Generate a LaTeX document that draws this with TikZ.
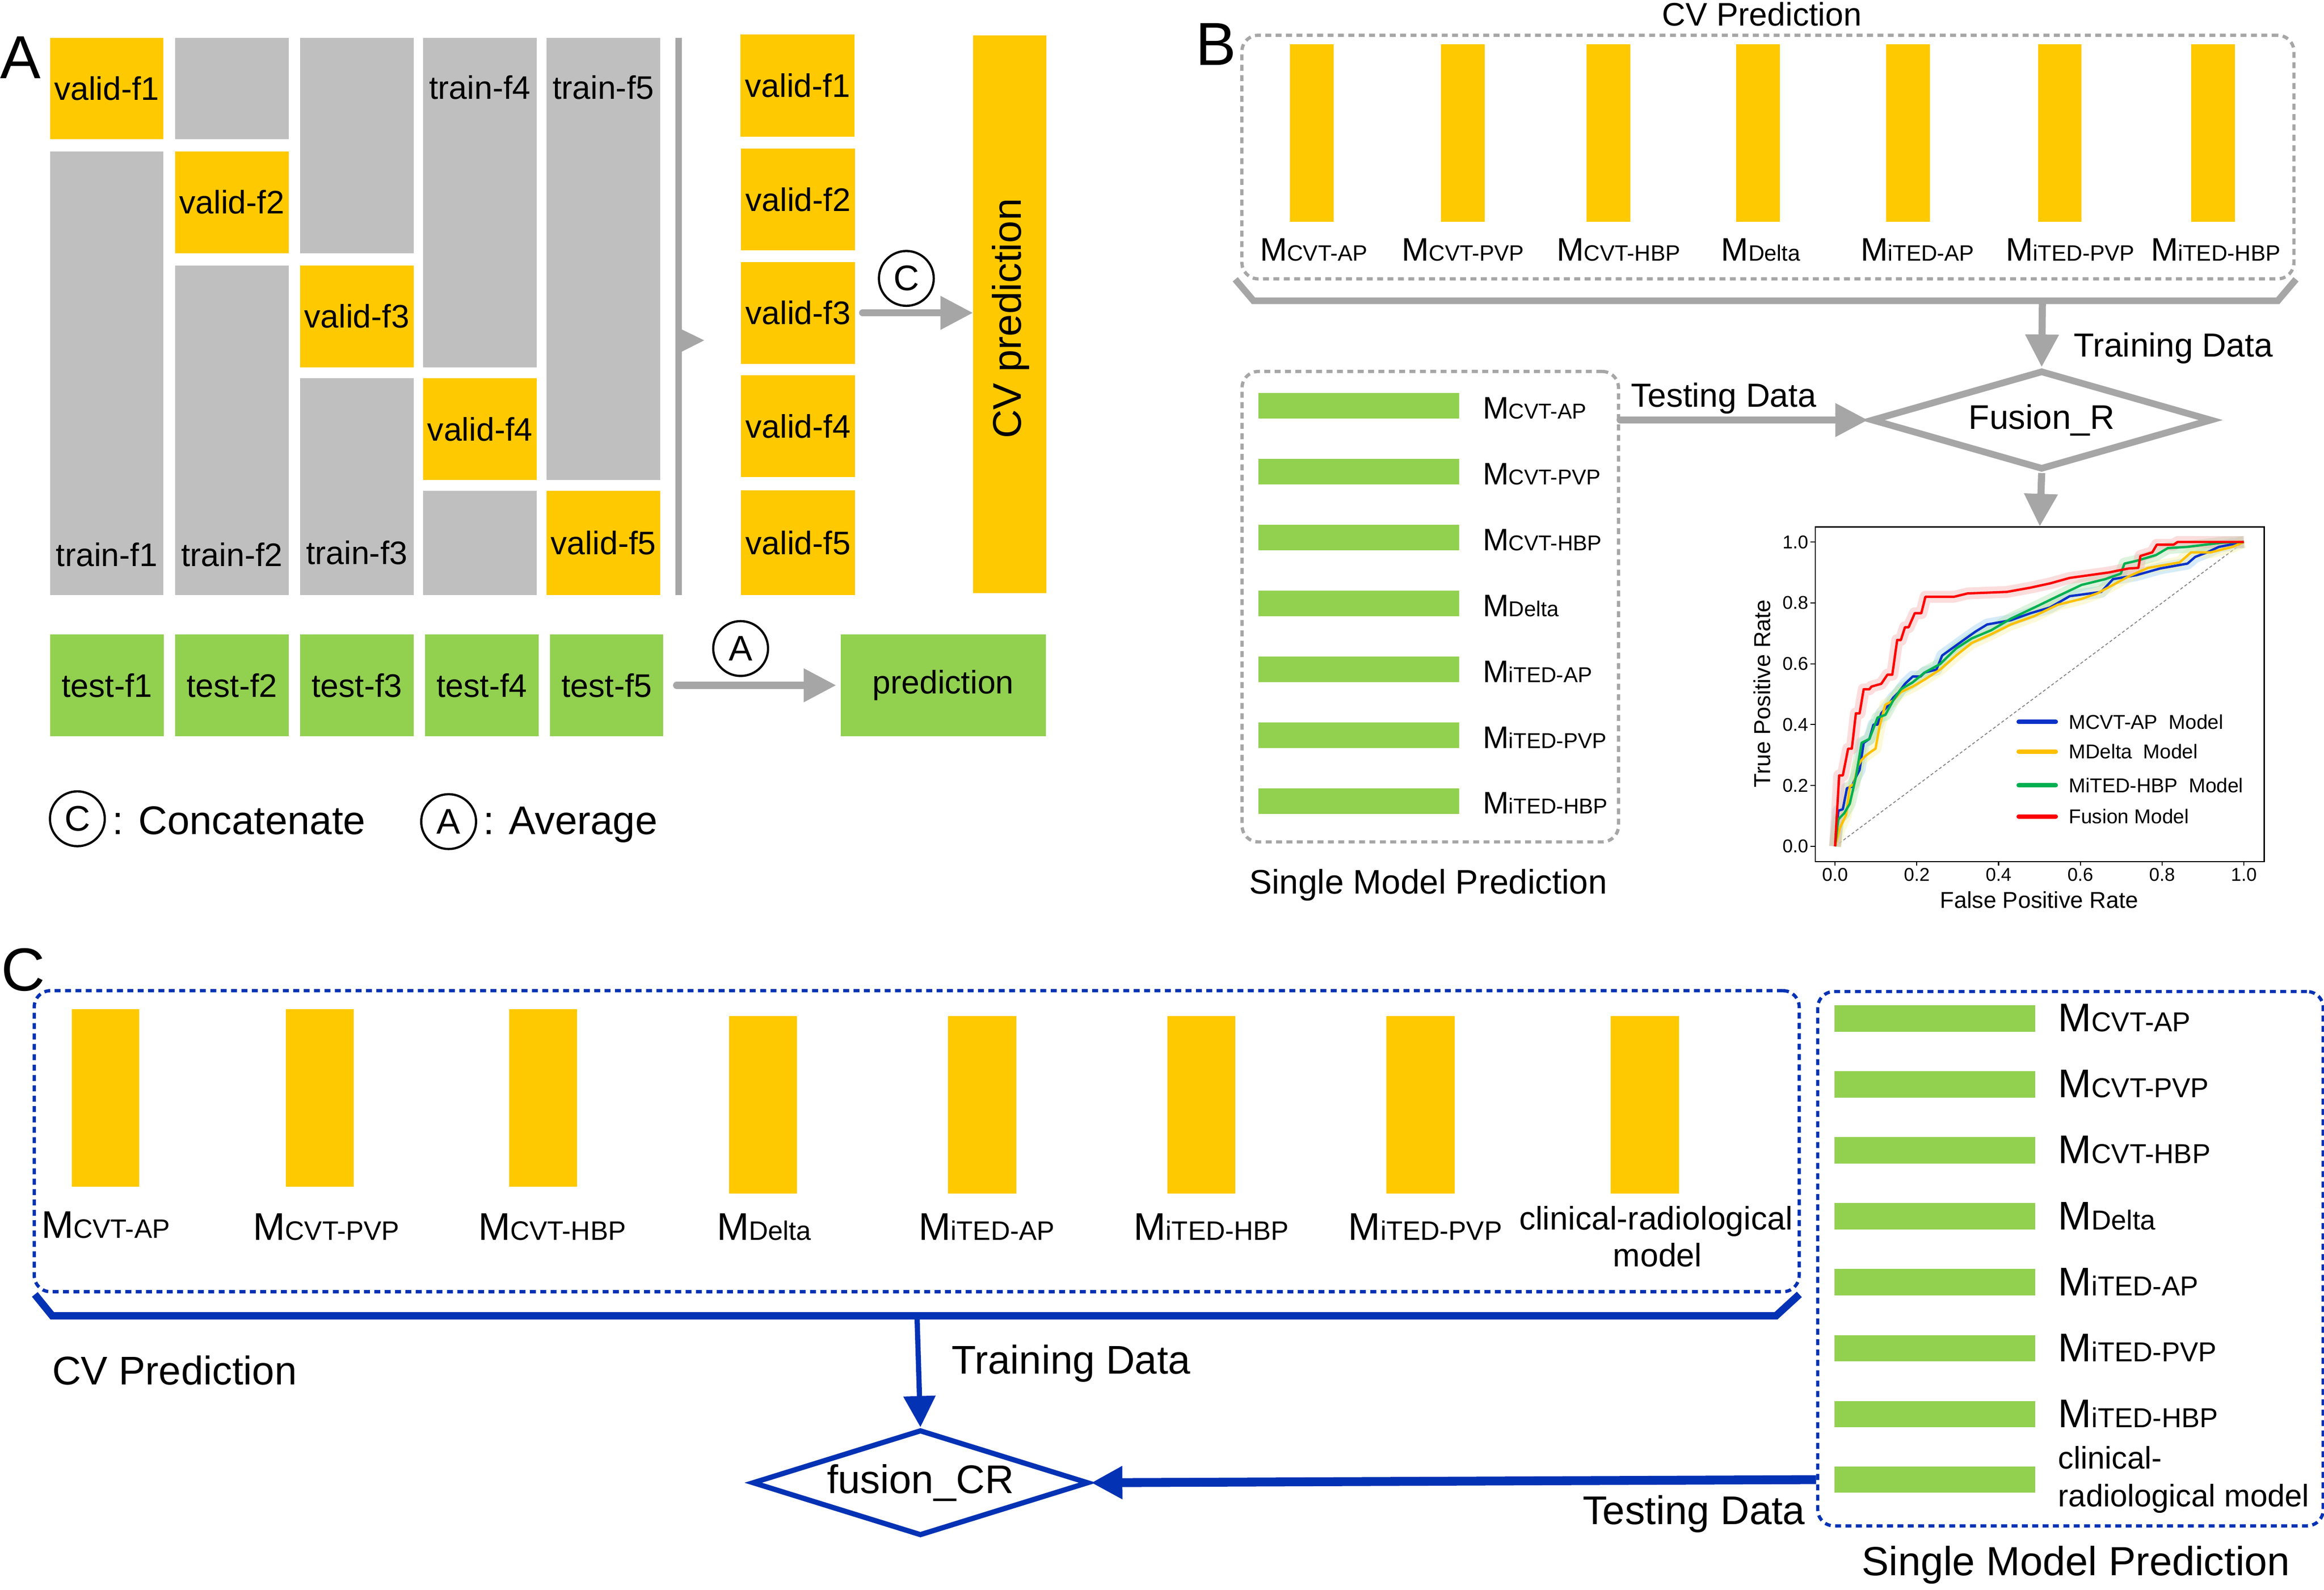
\documentclass[tikz,border=0pt]{standalone}
\usepackage{fontspec}
\setmainfont{Liberation Sans}
\usetikzlibrary{arrows.meta,shapes.geometric}
\definecolor{ygold}{HTML}{FFC900}
\definecolor{lgreen}{HTML}{92D050}
\definecolor{lgray}{HTML}{BFBFBF}
\definecolor{agray}{HTML}{A6A6A6}
\definecolor{dblue}{HTML}{0432B4}
\definecolor{cblue}{HTML}{0A32C8}
\definecolor{cyel}{HTML}{FFC000}
\definecolor{cgrn}{HTML}{00B050}
\definecolor{cred}{HTML}{FF0000}
\newcommand\fsz[1]{\fontsize{#1}{#1}\selectfont}
\newcommand\mlab[3]{{\fsz{#1}M}{\fsz{#2}#3}}
\newcommand\rectnd[7]{\node[#1, anchor=north west, minimum width={(#4)-(#2)}, minimum height={(#5)-(#3)}] (#6) at ({#2},{#3}) {#7};}
\newcommand\redcurve[1]{\draw[#1] (0,0) -- (0.01,0.233) -- (0.019,0.233) -- (0.032,0.321) -- (0.041,0.321) -- (0.051,0.437) -- (0.06,0.437) -- (0.07,0.516) -- (0.084,0.516) -- (0.089,0.525) -- (0.113,0.534) -- (0.128,0.564) -- (0.14,0.564) -- (0.152,0.678) -- (0.161,0.678) -- (0.171,0.72) -- (0.18,0.72) -- (0.195,0.766) -- (0.211,0.766) -- (0.221,0.82) -- (0.291,0.82) -- (0.324,0.831) -- (0.42,0.836) -- (0.478,0.85) -- (0.526,0.864) -- (0.574,0.882) -- (0.622,0.891) -- (0.67,0.9) -- (0.718,0.913) -- (0.742,0.915) -- (0.747,0.954) -- (0.776,0.966) -- (0.787,0.991) -- (0.828,0.991) -- (0.838,1) -- (1,1);}
\newcommand\bluecurve[1]{\draw[#1] (0,0) -- (0.008,0.117) -- (0.019,0.122) -- (0.029,0.191) -- (0.041,0.196) -- (0.051,0.228) -- (0.06,0.251) -- (0.07,0.34) -- (0.084,0.353) -- (0.094,0.4) -- (0.104,0.4) -- (0.113,0.437) -- (0.128,0.46) -- (0.142,0.488) -- (0.156,0.507) -- (0.171,0.534) -- (0.19,0.558) -- (0.209,0.558) -- (0.219,0.571) -- (0.248,0.581) -- (0.262,0.627) -- (0.296,0.66) -- (0.324,0.687) -- (0.344,0.706) -- (0.372,0.729) -- (0.43,0.743) -- (0.478,0.766) -- (0.526,0.785) -- (0.574,0.822) -- (0.651,0.836) -- (0.68,0.878) -- (0.737,0.891) -- (0.795,0.913) -- (0.862,0.929) -- (0.881,0.951) -- (0.91,0.966) -- (0.939,0.984) -- (1,1);}
\newcommand\yelcurve[1]{\draw[#1] (0,0) -- (0.012,0.061) -- (0.027,0.103) -- (0.036,0.196) -- (0.046,0.205) -- (0.056,0.265) -- (0.065,0.284) -- (0.075,0.298) -- (0.089,0.312) -- (0.099,0.321) -- (0.109,0.395) -- (0.123,0.465) -- (0.142,0.479) -- (0.161,0.507) -- (0.19,0.525) -- (0.219,0.548) -- (0.257,0.581) -- (0.296,0.627) -- (0.334,0.668) -- (0.382,0.697) -- (0.43,0.729) -- (0.488,0.757) -- (0.545,0.794) -- (0.603,0.813) -- (0.641,0.831) -- (0.68,0.859) -- (0.718,0.887) -- (0.766,0.915) -- (0.843,0.933) -- (0.871,0.966) -- (0.919,0.966) -- (0.972,0.984) -- (1,1);}
\newcommand\grncurve[1]{\draw[#1] (0,0) -- (0.008,0.089) -- (0.022,0.108) -- (0.036,0.14) -- (0.051,0.228) -- (0.065,0.34) -- (0.084,0.353) -- (0.104,0.423) -- (0.123,0.432) -- (0.142,0.479) -- (0.161,0.516) -- (0.19,0.539) -- (0.219,0.571) -- (0.257,0.599) -- (0.296,0.65) -- (0.334,0.683) -- (0.382,0.71) -- (0.43,0.748) -- (0.488,0.785) -- (0.545,0.822) -- (0.603,0.859) -- (0.661,0.878) -- (0.699,0.896) -- (0.708,0.929) -- (0.737,0.938) -- (0.785,0.957) -- (0.814,0.98) -- (0.862,0.984) -- (0.948,0.998) -- (1,1);}
\begin{document}
\begin{tikzpicture}[x=1pt,y=-1pt,
 txt/.style={inner sep=0pt,outer sep=0pt},
 ybox/.style={fill=ygold,inner sep=0pt,outer sep=0pt,font=\fsz{22}},
 gbox/.style={fill=lgray,inner sep=0pt,outer sep=0pt},
 grbox/.style={fill=lgreen,inner sep=0pt,outer sep=0pt,font=\fsz{22}},
 circ/.style={circle,draw,line width=1.5pt,minimum size=37pt,inner sep=0pt,font=\fsz{24}},
 garrow/.style={draw=agray,line width=4.8pt,-{Triangle[length=22pt,width=21.6pt]}},
 barrow/.style={draw=dblue,-{Triangle[length=21pt,width=21pt]}},
 gdash/.style={draw=agray,line width=2.2pt,dash pattern=on 4pt off 3pt,rounded corners=11pt,inner sep=0pt},
 bdash/.style={draw=dblue,line width=2.2pt,dash pattern=on 4pt off 3pt,rounded corners=11pt,inner sep=0pt},
 band/.style={line width=8pt,opacity=0.4,line join=round},
 curve/.style={line width=1.6pt,line join=round}
]
\useasboundingbox (0,0) rectangle (1568,1072.8);
% ================= Panel A =================
\node[txt,font=\fsz{41}] (panA) at (14,39) {A};
\rectnd{ybox}{33.8}{25.4}{110.2}{93.9}{v1}{valid-f1}
\rectnd{gbox}{33.8}{102.1}{110.2}{401.6}{tr1}{}
\rectnd{gbox}{118.2}{25.4}{194.7}{93.9}{g21}{}
\rectnd{ybox}{118.2}{102.1}{194.7}{170.9}{v2}{valid-f2}
\rectnd{gbox}{118.2}{179.1}{194.7}{401.6}{tr2}{}
\rectnd{gbox}{202.4}{25.4}{279.1}{170.9}{g31}{}
\rectnd{ybox}{202.4}{179.1}{279.1}{247.9}{v3}{valid-f3}
\rectnd{gbox}{202.4}{255.3}{279.1}{401.6}{tr3}{}
\rectnd{gbox}{285.6}{25.4}{362.1}{247.9}{tr4}{}
\rectnd{ybox}{285.6}{255.3}{362.1}{324.1}{v4}{valid-f4}
\rectnd{gbox}{285.6}{331.3}{362.1}{401.6}{g42}{}
\rectnd{gbox}{368.9}{25.4}{445.4}{324.1}{tr5}{}
\rectnd{ybox}{368.9}{331.3}{445.4}{401.6}{v5}{valid-f5}
\node[txt,font=\fsz{22}] (ltr1) at (72,374.5) {train-f1};
\node[txt,font=\fsz{22}] (ltr2) at (156.5,374.5) {train-f2};
\node[txt,font=\fsz{22}] (ltr3) at (240.7,373) {train-f3};
\node[txt,font=\fsz{22}] (ltr4) at (323.8,58.9) {train-f4};
\node[txt,font=\fsz{22}] (ltr5) at (407,58.9) {train-f5};
% bracket A
\fill[agray] (455.7,25.4) rectangle (459.9,401.6);
\fill[agray] (459.9,222.3) -- (475.1,229.7) -- (459.9,237.4) -- cycle;
% valid column
\rectnd{ybox}{499.7}{23.3}{576.5}{92.3}{cv1}{valid-f1}
\rectnd{ybox}{500}{100.3}{577}{169.1}{cv2}{valid-f2}
\rectnd{ybox}{500}{176.8}{577}{245.5}{cv3}{valid-f3}
\rectnd{ybox}{500}{253.2}{577}{322}{cv4}{valid-f4}
\rectnd{ybox}{500}{331}{577}{401.6}{cv5}{valid-f5}
\rectnd{ybox}{656.5}{23.8}{705.9}{400.3}{cvp}{}
\node[txt,rotate=90,font=\fsz{27}] (cvptxt) at (682,215) {CV prediction};
\node[circ] (cC) at (611.5,187.9) {C};
\draw[garrow,line cap=round] ([xshift=5pt]cv3.east) -- (cvp.west |- cv3.east);
% test row
\rectnd{grbox}{34}{428.1}{110.4}{496.9}{t1}{test-f1}
\rectnd{grbox}{118.3}{428.1}{194.7}{496.9}{t2}{test-f2}
\rectnd{grbox}{202.6}{428.1}{279}{496.9}{t3}{test-f3}
\rectnd{grbox}{286.9}{428.1}{363.3}{496.9}{t4}{test-f4}
\rectnd{grbox}{371.2}{428.1}{447.5}{496.9}{t5}{test-f5}
\rectnd{grbox}{567.2}{428.1}{705.5}{496.9}{pred}{prediction}
\node[circ] (cA) at (499.7,437.7) {A};
\draw[garrow,line cap=round] ([xshift=9pt]t5.east) -- ([xshift=-3pt]pred.west);
% legend
\node[circ] (lgC) at (52.2,552.6) {C};
\node[txt,anchor=base west,font=\fsz{27}] (lgCt) at (76,563) {: Concatenate};
\node[circ] (lgA) at (302.7,554.5) {A};
\node[txt,anchor=base west,font=\fsz{27}] (lgAt) at (326,563) {: Average};
% ================= Panel B =================
\node[txt,font=\fsz{41}] (panB) at (820.4,29.9) {B};
\node[txt,anchor=base,font=\fsz{22}] (cvtitB) at (1188.8,17.5) {CV Prediction};
\node[gdash,anchor=north west,minimum width=709.8pt,minimum height=164.4pt] (cvB) at (836.8,22.7) {};
\foreach \x [count=\i] in {870.3,972.1,1070.5,1171.3,1272.7,1375,1478.3}
  \rectnd{ybox}{\x}{30}{\x+29.5}{149.7}{yb\i}{};
\node[txt,anchor=base] (lb1) at (886.3,176) {\mlab{22}{15}{CVT-AP}};
\node[txt,anchor=base] (lb2) at (987,176) {\mlab{22}{15}{CVT-PVP}};
\node[txt,anchor=base] (lb3) at (1092,176) {\mlab{22}{15}{CVT-HBP}};
\node[txt,anchor=base] (lb4) at (1188,176) {\mlab{22}{15}{Delta}};
\node[txt,anchor=base] (lb5) at (1293.7,176) {\mlab{22}{15}{iTED-AP}};
\node[txt,anchor=base] (lb6) at (1396.8,176) {\mlab{22}{15}{iTED-PVP}};
\node[txt,anchor=base] (lb7) at (1494.9,176) {\mlab{22}{15}{iTED-HBP}};
\draw[agray,line width=4.5pt] (833.4,188.5) -- (845.7,203) -- (1536.8,203) -- (1549.1,188.5);
\coordinate (bbr) at (1378,203);
\node[diamond,draw=agray,line width=4.5pt,minimum width=230pt,minimum height=67pt,aspect=3.4,inner sep=0pt,font=\fsz{23}] (fusR) at (1377.5,283.5) {Fusion\_R};
\draw[garrow] (bbr) -- (fusR.north);
\node[txt,anchor=base west,font=\fsz{22.5}] (trB) at (1399.3,240.7) {Training Data};
% single model box B
\node[gdash,anchor=north west,minimum width=254pt,minimum height=317.5pt] (smB) at (836.9,249.6) {};
\foreach \i/\s in {0/CVT-AP,1/CVT-PVP,2/CVT-HBP,3/Delta,4/iTED-AP,5/iTED-PVP,6/iTED-HBP}{
  \rectnd{grbox}{848.9}{265.2+\i*44.45}{984.6}{282.6+\i*44.45}{gb\i}{};
  \node[txt,anchor=base west] (gl\i) at (1000.4,{282.6+\i*44.45}) {\mlab{21}{14.5}{\s}};
}
\node[txt,anchor=base,font=\fsz{23}] (smtB) at (963.6,603.3) {Single Model Prediction};
\draw[garrow,line cap=round] (smB.east |- fusR.west) -- (fusR.west);
\node[txt,anchor=base,font=\fsz{22.5}] (teB) at (1163,274.5) {Testing Data};
% ROC plot
\node[draw,line width=0.8pt,anchor=north west,minimum width=302.9pt,minimum height=225.8pt,inner sep=0pt] (roc) at (1224.4,355.3) {};
\draw[garrow,line width=4.8pt] (fusR.south) -- (roc.north);
\foreach \v [count=\i] in {0.0,0.2,0.4,0.6,0.8,1.0}{
  \draw[line width=0.7pt] (1224.4,{571.2-\v*205.4}) -- ++(-3,0);
  \node[txt,anchor=east,font=\fsz{12.5}] (yt\i) at (1220,{571.2-\v*205.4}) {\v};
  \draw[line width=0.7pt] ({1238.1+\v*275.8},581.1) -- ++(0,3);
  \node[txt,anchor=north,font=\fsz{12.5}] (xt\i) at ({1238.1+\v*275.8},586) {\v};
}
\node[txt,rotate=90,font=\fsz{15.5}] (ylab) at (1188.7,468.1) {True Positive Rate};
\node[txt,font=\fsz{15.5}] (xlab) at (1375.8,607.2) {False Positive Rate};
\begin{scope}[shift={(1238.1,571.2)},x=275.8pt,y=205.4pt]
  \draw[gray,line width=0.6pt,dash pattern=on 2pt off 1.5pt] (0,0) -- (1,1);
  \bluecurve{band,draw={rgb,255:red,150;green,205;blue,240}}
  \yelcurve{band,draw={rgb,255:red,245;green,240;blue,160}}
  \grncurve{band,draw={rgb,255:red,170;green,225;blue,170}}
  \redcurve{band,draw={rgb,255:red,245;green,170;blue,170}}
  \bluecurve{curve,draw=cblue}
  \yelcurve{curve,draw=cyel}
  \grncurve{curve,draw=cgrn}
  \redcurve{curve,draw=cred}
\end{scope}
\foreach \c/\y/\t [count=\i] in {cblue/487.2/{MCVT-AP\ \ Model},cyel/507.2/{MDelta\ \ Model},cgrn/530/{MiTED-HBP\ \ Model},cred/551/{Fusion Model}}{
  \draw[\c,line width=3pt,line cap=round] (1362,\y) -- (1387,\y);
  \node[txt,anchor=west,font=\fsz{13.5}] (lg\i) at (1395.8,\y) {\t};
}
% ================= Panel C =================
\node[txt,font=\fsz{41}] (panC) at (15.5,654.7) {C};
\node[bdash,anchor=north west,minimum width=1190.8pt,minimum height=203.2pt] (cvC) at (22,667.5) {};
\rectnd{ybox}{48.3}{681}{94}{800.8}{yc1}{}
\rectnd{ybox}{193}{681}{238.7}{800.8}{yc2}{}
\rectnd{ybox}{343.7}{681}{389.4}{800.8}{yc3}{}
\rectnd{ybox}{491.9}{685.8}{537.6}{805.5}{yc4}{}
\rectnd{ybox}{639.6}{685.8}{685.8}{805.5}{yc5}{}
\rectnd{ybox}{787.6}{685.8}{833.3}{805.5}{yc6}{}
\rectnd{ybox}{935.4}{685.8}{981.5}{805.5}{yc7}{}
\rectnd{ybox}{1086.6}{685.8}{1132.8}{805.5}{yc8}{}
\node[txt,anchor=base] (lc1) at (71.3,835.5) {\mlab{26}{18}{CVT-AP}};
\node[txt,anchor=base] (lc2) at (220.1,837) {\mlab{26}{18}{CVT-PVP}};
\node[txt,anchor=base] (lc3) at (372.5,837) {\mlab{26}{18}{CVT-HBP}};
\node[txt,anchor=base] (lc4) at (515.5,837) {\mlab{26}{18}{Delta}};
\node[txt,anchor=base] (lc5) at (665.7,837) {\mlab{26}{18}{iTED-AP}};
\node[txt,anchor=base] (lc6) at (817.3,837) {\mlab{26}{18}{iTED-HBP}};
\node[txt,anchor=base] (lc7) at (961.6,837) {\mlab{26}{18}{iTED-PVP}};
\node[txt,anchor=base,font=\fsz{22}] (lc8a) at (1117.3,830) {clinical-radiological};
\node[txt,anchor=base,font=\fsz{22}] (lc8b) at (1118.3,855) {model};
\draw[dblue,line width=5pt] (23.5,873.6) -- (35.2,888) -- (1198.3,888) -- (1214,873.6);
\coordinate (cbr) at (618.7,888);
\node[txt,anchor=base west,font=\fsz{27}] (cvtC) at (35.2,934.5) {CV Prediction};
\node[txt,anchor=base west,font=\fsz{27}] (trC) at (642.2,927.1) {Training Data};
\node[diamond,draw=dblue,line width=3.5pt,minimum width=227pt,minimum height=71.5pt,aspect=3.2,inner sep=0pt,font=\fsz{27}] (fusCR) at (621,1000.7) {fusion\_CR};
\draw[barrow,line width=3.5pt] (cbr) -- (fusCR.north);
% single model box C
\node[bdash,anchor=north west,minimum width=341.1pt,minimum height=360.6pt] (smC) at (1225.3,668.1) {};
\foreach \i/\s in {0/CVT-AP,1/CVT-PVP,2/CVT-HBP,3/Delta,4/iTED-AP,5/iTED-PVP,6/iTED-HBP}{
  \rectnd{grbox}{1237.6}{678.5+\i*44.5}{1373.2}{696.3+\i*44.5}{gc\i}{};
  \node[txt,anchor=base west] (glc\i) at (1388.7,{696.3+\i*44.5}) {\mlab{27}{18.5}{\s}};
}
\rectnd{grbox}{1237.6}{989.7}{1373.2}{1007.5}{gc7}{}
\node[txt,anchor=base west,font=\fsz{21}] (glc7a) at (1388.7,991.4) {clinical-};
\node[txt,anchor=base west,font=\fsz{21}] (glc7b) at (1388.7,1016.8) {radiological model};
\node[txt,anchor=base,font=\fsz{27.5}] (smtC) at (1400.6,1063.3) {Single Model Prediction};
\draw[barrow,line width=6pt] (smC.west |- gc7.west) -- (fusCR.east);
\node[txt,anchor=base east,font=\fsz{27}] (teC) at (1217.9,1028.8) {Testing Data};
\end{tikzpicture}
\end{document}
